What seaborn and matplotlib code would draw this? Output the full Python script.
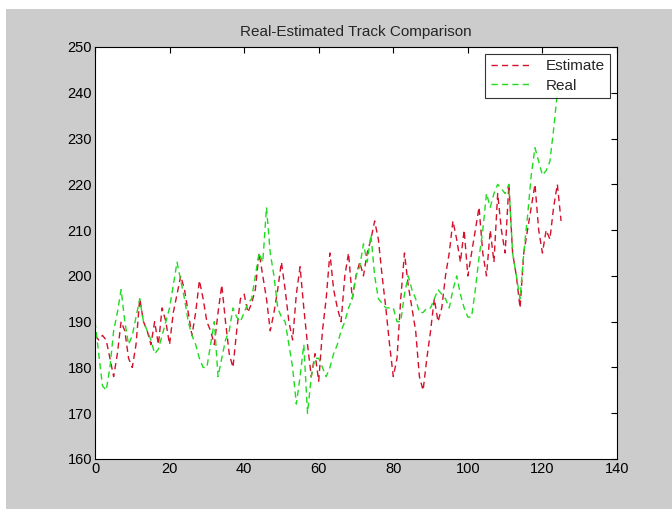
import numpy as np
import pandas as pd
import matplotlib
matplotlib.use("Agg")
import matplotlib.pyplot as plt
import seaborn as sns

estimate = [187, 186, 187, 186, 182, 178, 183, 190, 188, 182,
            180, 185, 195, 190, 188, 185, 190, 185, 193, 190,
            185, 192, 196, 200, 197, 192, 187, 192, 199, 195,
            190, 188, 185, 192, 198, 190, 183, 180, 188, 195,
            196, 192, 194, 197, 205, 200, 195, 188, 192, 197,
            203, 197, 190, 186, 196, 202, 193, 185, 178, 183,
            177, 188, 195, 205, 197, 193, 190, 200, 205, 195,
            200, 203, 200, 205, 208, 212, 208, 200, 193, 185,
            178, 182, 195, 205, 198, 193, 188, 178, 175, 182,
            188, 195, 190, 193, 200, 205, 212, 208, 203, 210,
            200, 205, 210, 215, 205, 200, 210, 203, 218, 210,
            205, 220, 205, 200, 193, 205, 210, 215, 220, 210,
            205, 210, 208, 215, 220, 212]
real = [190, 183, 176, 175, 180, 188, 192, 197, 190, 185,
        187, 191, 195, 190, 188, 186, 183, 184, 187, 190,
        193, 198, 203, 199, 195, 190, 187, 185, 182, 180,
        180, 185, 190, 178, 182, 186, 188, 193, 191, 190,
        192, 194, 195, 200, 205, 203, 215, 205, 200, 193,
        191, 190, 185, 180, 172, 178, 185, 170, 178, 182,
        182, 180, 178, 180, 183, 185, 188, 190, 193, 195,
        200, 202, 207, 203, 209, 200, 195, 194, 193, 193,
        193, 190, 190, 196, 200, 197, 195, 192, 192, 193,
        193, 195, 197, 196, 195, 193, 197, 200, 196, 193,
        191, 191, 197, 204, 210, 218, 215, 218, 220, 219,
        218, 220, 205, 200, 195, 205, 213, 222, 228, 225,
        222, 223, 225, 232, 240, 242]
x = list(range(len(estimate)))

df = pd.DataFrame({
    "x": x * 2,
    "y": estimate + real,
    "series": ["Estimate"] * len(estimate) + ["Real"] * len(real),
})

sns.set_style("white")
plt.rcParams["font.family"] = ["Liberation Sans", "DejaVu Sans"]

fig = plt.figure(figsize=(6.72, 5.09), dpi=100, facecolor="white")
fig.patches.append(plt.Rectangle((6 / 672, 0), 1, 1 - 9 / 509, transform=fig.transFigure,
                                 facecolor="#cccccc", edgecolor="none", zorder=-10))
ax = fig.add_axes([95 / 672, 1 - 459 / 509, 522 / 672, 412 / 509])
ax.set_facecolor("white")

sns.lineplot(data=df, x="x", y="y", hue="series",
             palette={"Estimate": "#d4102c", "Real": "#1edc1e"},
             ax=ax, linewidth=1.0)
for ln in ax.lines:
    ln.set_dashes((4.5, 3))

ax.set_xlim(0, 140)
ax.set_ylim(160, 250)
ax.set_xticks(np.arange(0, 141, 20))
ax.set_yticks(np.arange(160, 251, 10))
ax.set_xlabel("")
ax.set_ylabel("")
ax.tick_params(direction="in", length=4, width=0.8, top=True, right=True,
               labelsize=10.5, colors="black", pad=2)
for s in ax.spines.values():
    s.set_visible(True)
    s.set_color("black")
    s.set_linewidth(0.8)
ax.set_title("Real-Estimated Track Comparison", fontsize=11, pad=8)

leg = ax.legend(loc="upper right", frameon=True, fancybox=False, fontsize=11,
                edgecolor="black", handlelength=2.6, borderaxespad=0.45,
                borderpad=0.35, labelspacing=0.35, handletextpad=1.0)
leg.get_frame().set_linewidth(0.8)
for h in leg.get_lines():
    h.set_dashes((4.5, 3))

fig.savefig("out.png", dpi=100, facecolor=fig.get_facecolor())
